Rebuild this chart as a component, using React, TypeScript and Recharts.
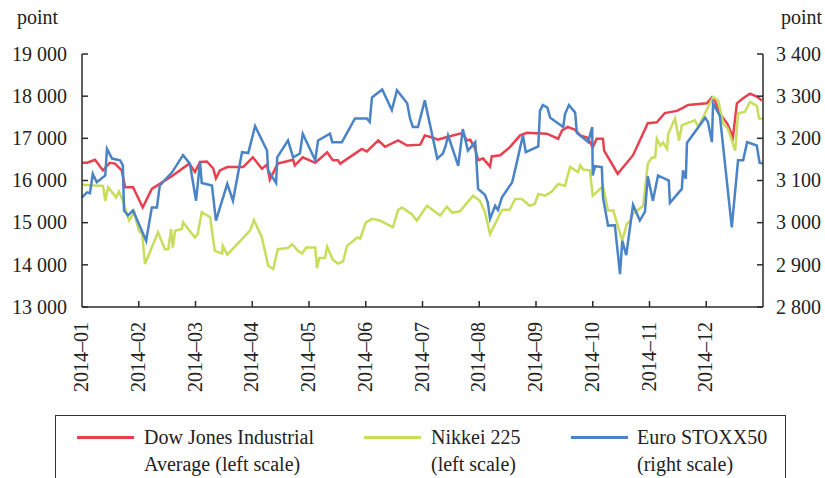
import { CartesianGrid, Line, LineChart, XAxis, YAxis } from "recharts";

// x = position in months from 2014-01-01 (0 = Jan, 11 = Dec, 12 = year end)
const months = ["2014–01", "2014–02", "2014–03", "2014–04", "2014–05", "2014–06", "2014–07", "2014–08", "2014–09", "2014–10", "2014–11", "2014–12"];
const monthTicks = [0, 1, 2, 3, 4, 5, 6, 7, 8, 9, 10, 11];
const leftTicks = [13000, 14000, 15000, 16000, 17000, 18000, 19000];
const rightTicks = [2800, 2900, 3000, 3100, 3200, 3300, 3400];

const dowX = [0, 0.09, 0.23, 0.37, 0.49, 0.58, 0.7, 0.76, 0.9, 1.07, 1.23, 1.6, 1.89, 1.99, 2.08, 2.2, 2.31, 2.36, 2.43, 2.56, 2.84, 3.01, 3.17, 3.26, 3.31, 3.45, 3.72, 3.75, 3.89, 4.11, 4.32, 4.42, 4.51, 4.55, 4.93, 5.02, 5.22, 5.34, 5.57, 5.73, 5.96, 6.04, 6.17, 6.27, 6.4, 6.71, 6.78, 6.84, 6.93, 6.98, 7.07, 7.19, 7.22, 7.37, 7.54, 7.72, 7.84, 8.19, 8.39, 8.46, 8.56, 8.69, 8.78, 8.9, 8.95, 9.0, 9.07, 9.18, 9.2, 9.44, 9.71, 9.97, 10.13, 10.27, 10.48, 10.57, 10.68, 11.01, 11.1, 11.15, 11.24, 11.37, 11.47, 11.54, 11.65, 11.77, 11.89, 11.98];
const dowY = [16420, 16420, 16490, 16240, 16420, 16400, 16240, 15840, 15840, 15360, 15800, 16120, 16400, 16200, 16440, 16450, 16290, 16050, 16240, 16320, 16320, 16550, 16280, 16380, 16020, 16400, 16490, 16360, 16550, 16420, 16670, 16480, 16480, 16400, 16750, 16690, 16950, 16800, 16950, 16830, 16850, 17070, 17020, 16970, 17020, 17130, 16950, 16970, 16750, 16480, 16520, 16330, 16570, 16600, 16790, 17070, 17130, 17110, 16990, 17190, 17270, 17200, 17070, 17020, 16910, 16790, 16990, 16990, 16710, 16160, 16600, 17360, 17380, 17600, 17650, 17710, 17790, 17830, 17970, 17900, 17590, 17350, 17030, 17830, 17950, 18060, 17990, 17900];

const nikkeiX = [0, 0.37, 0.41, 0.46, 0.6, 0.65, 0.72, 0.83, 0.92, 1.0, 1.06, 1.11, 1.34, 1.46, 1.52, 1.57, 1.6, 1.64, 1.76, 1.78, 1.99, 2.04, 2.11, 2.26, 2.29, 2.34, 2.47, 2.48, 2.56, 2.96, 3.03, 3.17, 3.28, 3.37, 3.45, 3.63, 3.7, 3.81, 3.88, 3.95, 4.11, 4.14, 4.18, 4.28, 4.32, 4.42, 4.51, 4.6, 4.67, 4.85, 4.9, 5.0, 5.11, 5.25, 5.48, 5.57, 5.64, 5.81, 5.9, 6.08, 6.31, 6.43, 6.52, 6.66, 6.89, 7.01, 7.1, 7.19, 7.4, 7.54, 7.63, 7.75, 7.89, 7.98, 8.04, 8.16, 8.28, 8.39, 8.51, 8.6, 8.74, 8.78, 8.83, 8.95, 9.0, 9.18, 9.27, 9.36, 9.52, 9.6, 9.66, 9.71, 9.89, 9.97, 10.04, 10.1, 10.13, 10.19, 10.24, 10.31, 10.33, 10.45, 10.52, 10.57, 10.8, 10.86, 11.12, 11.21, 11.3, 11.38, 11.51, 11.56, 11.68, 11.77, 11.89, 11.93, 12.0];
const nikkeiY = [15900, 15870, 15520, 15840, 15600, 15740, 15520, 15050, 15250, 14810, 14730, 14020, 14770, 14370, 14370, 14850, 14410, 14810, 14850, 15010, 14650, 14730, 15250, 15130, 14810, 14330, 14270, 14450, 14240, 14810, 15060, 14650, 13980, 13900, 14370, 14400, 14490, 14330, 14270, 14410, 14410, 13920, 14160, 14160, 14430, 14120, 14030, 14080, 14450, 14650, 14620, 15000, 15090, 15050, 14890, 15300, 15360, 15200, 15050, 15400, 15170, 15380, 15240, 15270, 15640, 15520, 15250, 14730, 15300, 15310, 15560, 15560, 15400, 15450, 15680, 15640, 15740, 15920, 15870, 16320, 16200, 16360, 16260, 16240, 15640, 15860, 15290, 15290, 14570, 14970, 15050, 15210, 15400, 16400, 16540, 16550, 16990, 16830, 16900, 16750, 17110, 17470, 16950, 17310, 17430, 17270, 17980, 17900, 17350, 17230, 16710, 17590, 17630, 17860, 17770, 17470, 17470];

const stoxxX = [0, 0.09, 0.14, 0.19, 0.26, 0.41, 0.44, 0.53, 0.67, 0.72, 0.74, 0.81, 0.9, 1.13, 1.23, 1.32, 1.37, 1.59, 1.78, 1.9, 2.01, 2.08, 2.11, 2.29, 2.36, 2.56, 2.66, 2.82, 2.93, 3.05, 3.26, 3.28, 3.42, 3.44, 3.63, 3.72, 3.84, 3.89, 4.11, 4.16, 4.37, 4.41, 4.58, 4.81, 5.02, 5.07, 5.11, 5.29, 5.46, 5.55, 5.73, 5.78, 5.83, 5.92, 6.04, 6.26, 6.36, 6.41, 6.45, 6.63, 6.71, 6.8, 6.93, 6.98, 7.1, 7.15, 7.19, 7.28, 7.33, 7.4, 7.58, 7.63, 7.77, 7.82, 8.04, 8.07, 8.12, 8.2, 8.25, 8.48, 8.51, 8.58, 8.69, 8.72, 8.92, 8.99, 9.0, 9.04, 9.16, 9.18, 9.27, 9.39, 9.48, 9.52, 9.59, 9.71, 9.83, 9.92, 9.97, 10.06, 10.15, 10.34, 10.36, 10.57, 10.59, 10.64, 10.66, 10.98, 11.03, 11.1, 11.12, 11.24, 11.45, 11.56, 11.65, 11.72, 11.89, 11.94, 12.0];
const stoxxY = [3060, 3072, 3070, 3116, 3096, 3112, 3175, 3152, 3148, 3136, 3029, 3017, 3029, 2957, 3036, 3036, 3088, 3120, 3160, 3140, 3052, 3144, 3094, 3088, 3005, 3092, 3052, 3167, 3165, 3229, 3171, 3124, 3094, 3155, 3195, 3155, 3164, 3211, 3148, 3195, 3211, 3191, 3191, 3247, 3247, 3239, 3297, 3316, 3267, 3314, 3283, 3247, 3227, 3227, 3290, 3152, 3164, 3183, 3207, 3135, 3222, 3171, 3191, 3080, 3066, 3048, 3009, 3040, 3030, 3060, 3096, 3124, 3207, 3167, 3181, 3265, 3279, 3273, 3249, 3227, 3257, 3279, 3261, 3213, 3191, 3227, 3112, 3134, 3132, 3060, 2993, 2994, 2878, 2957, 2923, 3042, 3005, 3026, 3110, 3052, 3112, 3100, 3047, 3080, 3124, 3104, 3189, 3249, 3239, 3191, 3283, 3253, 2989, 3148, 3148, 3191, 3183, 3142, 3140];

const toPoints = (xs: number[], ys: number[]) => xs.map((m, i) => ({ m, v: ys[i] }));
const dowData = toPoints(dowX, dowY);
const nikkeiData = toPoints(nikkeiX, nikkeiY);
const stoxxData = toPoints(stoxxX, stoxxY);

const RED = "#e8404f";
const GREEN = "#c9dc5b";
const BLUE = "#4a84c6";
const AXIS = "#2b2b2b";
const FONT = "Liberation Serif, DejaVu Serif, Noto Serif, Times New Roman, serif";

const fmt = (v: number) => String(v).replace(/\B(?=(\d{3})+(?!\d))/g, " ");

const LeftTick = (props: any) => {
  const { x, y, payload } = props;
  const ax = x + 15;
  return (
    <g>
      <line x1={ax} x2={ax + 6} y1={y} y2={y} stroke={AXIS} strokeWidth={1.5} />
      <text x={x} y={y} dy="0.34em" textAnchor="end" style={{ fontFamily: FONT }} fontSize={20} fill="#222">
        {fmt(payload.value)}
      </text>
    </g>
  );
};

const RightTick = (props: any) => {
  const { x, y, payload } = props;
  const ax = x - 13;
  return (
    <g>
      <line x1={ax} x2={ax - 6} y1={y} y2={y} stroke={AXIS} strokeWidth={1.5} />
      <text x={x} y={y} dy="0.34em" textAnchor="start" style={{ fontFamily: FONT }} fontSize={20} fill="#222">
        {fmt(payload.value)}
      </text>
    </g>
  );
};

const MonthTick = (props: any) => {
  const { x, y, payload } = props;
  const ay = y - 15;
  const tx = x + 6;
  return (
    <g>
      {payload.value > 0 && <line x1={x} x2={x} y1={ay} y2={ay - 6} stroke={AXIS} strokeWidth={1.5} />}
      <text x={tx} y={y} textAnchor="end" transform={`rotate(-90 ${tx} ${y})`} style={{ fontFamily: FONT }} fontSize={20} fill="#222">
        {months[payload.value]}
      </text>
    </g>
  );
};

const legendItems = [
  { color: RED, lines: ["Dow Jones Industrial", "Average (left scale)"], left: 21, textLeft: 88 },
  { color: GREEN, lines: ["Nikkei 225", "(left scale)"], left: 308, textLeft: 375 },
  { color: BLUE, lines: ["Euro STOXX50", "(right scale)"], left: 515, textLeft: 581 },
];

export default function App() {
  return (
    <div style={{ position: "relative", width: 825, height: 478, overflow: "hidden", background: "#fff", fontFamily: FONT }}>
      <style>{"body{margin:0}"}</style>
      <div style={{ position: "absolute", left: 17, top: 6, fontSize: 20, color: "#222" }}>point</div>
      <div style={{ position: "absolute", left: 781, top: 6, fontSize: 20, color: "#222" }}>point</div>
      <LineChart width={825} height={400} margin={{ top: 54, right: 0, left: 0, bottom: 0 }}>
        <CartesianGrid stroke="none" />
        <XAxis
          dataKey="m"
          type="number"
          domain={[0, 12]}
          ticks={monthTicks}
          interval={0}
          height={93}
          tickSize={0}
          tickMargin={15}
          tick={<MonthTick />}
          axisLine={{ stroke: AXIS, strokeWidth: 1.5 }}
          allowDuplicatedCategory={false}
        />
        <YAxis
          yAxisId="left"
          domain={[13000, 19000]}
          ticks={leftTicks}
          width={82}
          tickSize={0}
          tickMargin={15}
          tick={<LeftTick />}
          axisLine={{ stroke: AXIS, strokeWidth: 1.5 }}
          allowDataOverflow
        />
        <YAxis
          yAxisId="right"
          orientation="right"
          domain={[2800, 3400]}
          ticks={rightTicks}
          width={62}
          tickSize={0}
          tickMargin={13}
          tick={<RightTick />}
          axisLine={{ stroke: AXIS, strokeWidth: 1.5 }}
          allowDataOverflow
        />
        <Line yAxisId="left" data={dowData} dataKey="v" type="linear" stroke={RED} strokeWidth={2.5} dot={false} isAnimationActive={false} />
        <Line yAxisId="left" data={nikkeiData} dataKey="v" type="linear" stroke={GREEN} strokeWidth={2.5} dot={false} isAnimationActive={false} />
        <Line yAxisId="right" data={stoxxData} dataKey="v" type="linear" stroke={BLUE} strokeWidth={2.5} dot={false} isAnimationActive={false} />
      </LineChart>
      <div
        style={{
          position: "absolute",
          left: 55,
          top: 415,
          width: 731,
          height: 90,
          border: "1.5px solid #333",
          boxSizing: "border-box",
        }}
      >
        {legendItems.map((it) => (
          <div key={it.lines[0]}>
            <div style={{ position: "absolute", left: it.left, top: 20, width: 57, height: 3, background: it.color }} />
            <div style={{ position: "absolute", left: it.textLeft, top: 8, fontSize: 20, lineHeight: "27px", color: "#222", whiteSpace: "nowrap" }}>
              {it.lines[0]}
              <br />
              {it.lines[1]}
            </div>
          </div>
        ))}
      </div>
    </div>
  );
}
